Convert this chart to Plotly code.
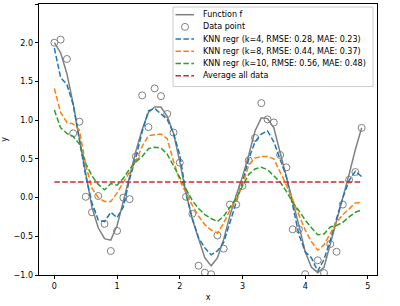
import plotly.graph_objects as go

xs = [0.0, 0.1, 0.2, 0.3, 0.4, 0.5, 0.6, 0.7, 0.8, 0.9,
      1.0, 1.1, 1.2, 1.3, 1.4, 1.5, 1.6, 1.7, 1.8, 1.9,
      2.0, 2.1, 2.2, 2.3, 2.4, 2.5, 2.6, 2.7, 2.8, 2.9,
      3.0, 3.1, 3.2, 3.3, 3.4, 3.5, 3.6, 3.7, 3.8, 3.9,
      4.0, 4.1, 4.2, 4.3, 4.4, 4.5, 4.6, 4.7, 4.8, 4.9]

f_true = [2.00, 1.87, 1.60, 1.21, 0.76, 0.31, -0.13, -0.39, -0.53, -0.55,
          -0.36, -0.05, 0.28, 0.60, 0.88, 1.10, 1.17, 1.17, 1.05, 0.83,
          0.46, 0.05, -0.28, -0.54, -0.78, -0.88, -0.78, -0.54, -0.23, 0.03,
          0.27, 0.55, 0.86, 1.03, 1.02, 0.90, 0.57, 0.25, -0.05, -0.36,
          -0.70, -0.90, -0.97, -0.90, -0.60, -0.30, -0.03, 0.30, 0.62, 0.90]

data_y = [2.00, 2.04, 1.79, 0.83, 0.98, 0.01, -0.19, 0.02, -0.34, -0.69,
          -0.43, 0.00, -0.02, 0.53, 1.32, 0.91, 1.41, 1.31, 1.08, 0.84,
          0.45, 0.01, -0.21, -0.88, -0.97, -0.99, -0.49, -0.66, -0.09, -0.09,
          0.15, 0.48, 0.77, 1.22, 1.01, 0.97, 0.55, 0.39, -0.41, -0.41,
          -0.99, -1.15, -0.81, -0.975, -0.60, -0.70, -0.09, 0.23, 0.33, 0.90]

knn4 = [1.93, 1.55, 1.46, 1.20, 0.74, 0.28, -0.07, -0.29, -0.31, -0.19,
        -0.26, -0.12, 0.24, 0.52, 0.85, 1.12, 1.15, 1.08, 1.01, 0.83,
        0.55, 0.05, -0.27, -0.52, -0.65, -0.74, -0.69, -0.58, -0.32, -0.05,
        0.20, 0.50, 0.72, 0.82, 0.86, 0.72, 0.48, 0.27, -0.10, -0.48,
        -0.70, -0.78, -0.95, -0.80, -0.55, -0.27, 0.00, 0.22, 0.34, 0.27]

knn8 = [1.41, 1.10, 0.97, 0.95, 0.87, 0.42, 0.12, 0.00, -0.05, -0.05,
        0.06, 0.20, 0.33, 0.47, 0.66, 0.80, 0.81, 0.82, 0.76, 0.47,
        0.22, 0.05, -0.10, -0.24, -0.35, -0.42, -0.46, -0.33, -0.16, -0.03,
        0.16, 0.42, 0.51, 0.53, 0.53, 0.50, 0.34, 0.16, -0.03, -0.22,
        -0.42, -0.57, -0.68, -0.61, -0.47, -0.32, -0.22, -0.15, -0.07, -0.06]

knn10 = [1.13, 0.90, 0.83, 0.79, 0.69, 0.44, 0.28, 0.17, 0.10, 0.18,
         0.16, 0.25, 0.37, 0.46, 0.53, 0.63, 0.65, 0.64, 0.56, 0.41,
         0.26, 0.10, -0.04, -0.14, -0.22, -0.27, -0.31, -0.24, -0.12, -0.01,
         0.15, 0.30, 0.37, 0.39, 0.36, 0.28, 0.20, 0.08, -0.06, -0.17,
         -0.29, -0.39, -0.48, -0.47, -0.38, -0.36, -0.32, -0.25, -0.19, -0.16]

avg_all = [0.2] * len(xs)

labels = ["Function f", "Data point",
          "KNN regr (k=4, RMSE: 0.28, MAE: 0.23)",
          "KNN regr (k=8, RMSE: 0.44, MAE: 0.37)",
          "KNN regr (k=10, RMSE: 0.56, MAE: 0.48)",
          "Average all data"]

FONT = "DejaVu Sans"
GRAY = "#808080"
BLUE = "#1f77b4"
ORANGE = "#ff7f0e"
GREEN = "#2ca02c"
RED = "#d62728"
DASH = "5.5px,2.4px"

fig = go.Figure()
fig.add_trace(go.Scatter(x=xs, y=f_true, mode="lines", line=dict(color=GRAY, width=1.5), name=labels[0]))
fig.add_trace(go.Scatter(x=xs, y=data_y, mode="markers",
                         marker=dict(symbol="circle-open", size=7, color=GRAY, line=dict(width=1)),
                         name=labels[1]))
for yv, col, lab in [(knn4, BLUE, labels[2]), (knn8, ORANGE, labels[3]), (knn10, GREEN, labels[4]), (avg_all, RED, labels[5])]:
    fig.add_trace(go.Scatter(x=xs, y=yv, mode="lines", line=dict(color=col, width=1.5, dash=DASH), name=lab))

# plot-area geometry in pixels
L, R, T, B = 39, 377, 4, 275
W, H = R - L, B - T

def px(xp):
    return (xp - L) / W

def py(yp):
    return 1 - (yp - T) / H

shapes = []
annotations = []
# legend box
shapes.append(dict(type="rect", xref="paper", yref="paper",
                   x0=px(173), x1=px(373), y0=py(86.5), y1=py(7),
                   fillcolor="rgba(255,255,255,0.8)", line=dict(color="#cccccc", width=1)))
rows = [14.7, 26.9, 39.1, 51.3, 63.5, 75.7]
styles = [(GRAY, "solid"), None, (BLUE, DASH), (ORANGE, DASH), (GREEN, DASH), (RED, DASH)]
for i, (ry, lab) in enumerate(zip(rows, labels)):
    st = styles[i]
    if st is None:
        shapes.append(dict(type="circle", xref="paper", yref="paper",
                           x0=px(181.5), x1=px(188.5), y0=py(ry + 3.5), y1=py(ry - 3.5),
                           line=dict(color=GRAY, width=1)))
    else:
        shapes.append(dict(type="line", xref="paper", yref="paper",
                           x0=px(175.5), x1=px(194), y0=py(ry), y1=py(ry),
                           line=dict(color=st[0], width=1.5, dash=st[1])))
    annotations.append(dict(xref="paper", yref="paper", x=px(200.5), y=py(ry),
                            xanchor="left", yanchor="middle", text=lab, showarrow=False,
                            font=dict(family=FONT, size=8, color="black")))

axis_common = dict(showgrid=False, zeroline=False, showline=True, mirror=True,
                   linecolor="black", linewidth=0.8, ticks="outside", ticklen=3.5,
                   tickwidth=0.8, tickcolor="black", automargin=False,
                   tickfont=dict(family=FONT, size=8, color="black"))

fig.update_layout(
    width=400, height=306, autosize=False,
    margin=dict(l=L, r=400 - R, t=T, b=306 - B, pad=0),
    plot_bgcolor="white", paper_bgcolor="white",
    showlegend=False,
    shapes=shapes, annotations=annotations,
    xaxis=dict(range=[-0.245, 5.145], tickvals=[0, 1, 2, 3, 4, 5],
               title=dict(text="x", font=dict(family=FONT, size=8, color="black"), standoff=4),
               **axis_common),
    yaxis=dict(range=[-1, 2.5], tickvals=[-1.0, -0.5, 0.0, 0.5, 1.0, 1.5, 2.0, 2.5], tickformat=".1f",
               title=dict(text="y", font=dict(family=FONT, size=8, color="black"), standoff=6),
               **axis_common),
)

fig.write_html("out.html", config={"displayModeBar": False, "responsive": False},
               post_script="document.body.style.margin='0';document.body.style.padding='0';document.body.style.overflow='hidden';")
